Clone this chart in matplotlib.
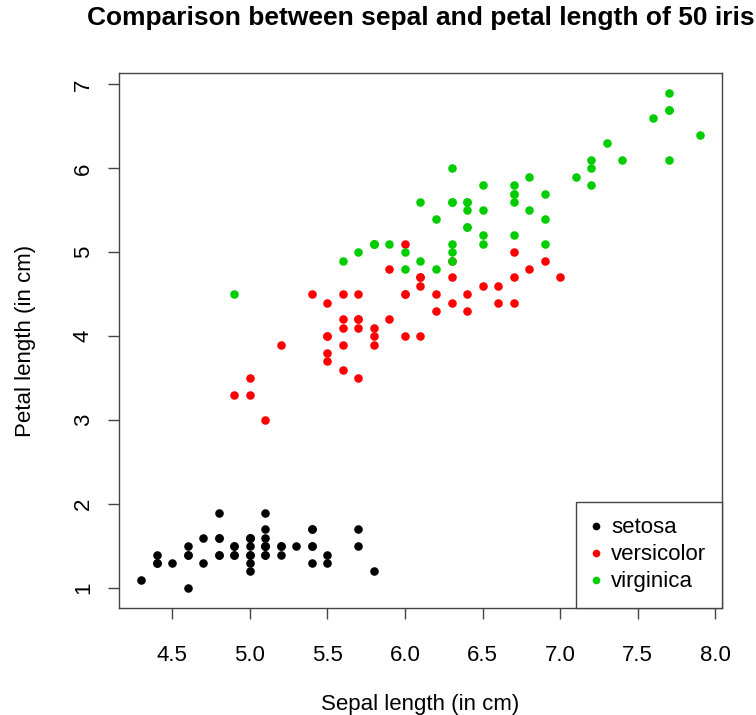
import matplotlib
matplotlib.use('Agg')
from matplotlib import pyplot as plt
from matplotlib.lines import Line2D

plt.rcParams['font.family'] = ['Liberation Sans', 'DejaVu Sans']

# iris: sepal length / petal length by species
setosa_sepal = [5.1, 4.9, 4.7, 4.6, 5.0, 5.4, 4.6, 5.0, 4.4, 4.9, 5.4, 4.8, 4.8, 4.3, 5.8, 5.7, 5.4,
                5.1, 5.7, 5.1, 5.4, 5.1, 4.6, 5.1, 4.8, 5.0, 5.0, 5.2, 5.2, 4.7, 4.8, 5.4, 5.2, 5.5,
                4.9, 5.0, 5.5, 4.9, 4.4, 5.1, 5.0, 4.5, 4.4, 5.0, 5.1, 4.8, 5.1, 4.6, 5.3, 5.0]
setosa_petal = [1.4, 1.4, 1.3, 1.5, 1.4, 1.7, 1.4, 1.5, 1.4, 1.5, 1.5, 1.6, 1.4, 1.1, 1.2, 1.5, 1.3,
                1.4, 1.7, 1.5, 1.7, 1.5, 1.0, 1.7, 1.9, 1.6, 1.6, 1.5, 1.4, 1.6, 1.6, 1.5, 1.5, 1.4,
                1.5, 1.2, 1.3, 1.4, 1.3, 1.5, 1.3, 1.3, 1.3, 1.6, 1.9, 1.4, 1.6, 1.4, 1.5, 1.4]
versicolor_sepal = [7.0, 6.4, 6.9, 5.5, 6.5, 5.7, 6.3, 4.9, 6.6, 5.2, 5.0, 5.9, 6.0, 6.1, 5.6, 6.7, 5.6,
                    5.8, 6.2, 5.6, 5.9, 6.1, 6.3, 6.1, 6.4, 6.6, 6.8, 6.7, 6.0, 5.7, 5.5, 5.5, 5.8, 6.0,
                    5.4, 6.0, 6.7, 6.3, 5.6, 5.5, 5.5, 6.1, 5.8, 5.0, 5.6, 5.7, 5.7, 6.2, 5.1, 5.7]
versicolor_petal = [4.7, 4.5, 4.9, 4.0, 4.6, 4.5, 4.7, 3.3, 4.6, 3.9, 3.5, 4.2, 4.0, 4.7, 3.6, 4.4, 4.5,
                    4.1, 4.5, 3.9, 4.8, 4.0, 4.9, 4.7, 4.3, 4.4, 4.8, 5.0, 4.5, 3.5, 3.8, 3.7, 3.9, 5.1,
                    4.5, 4.5, 4.7, 4.4, 4.1, 4.0, 4.4, 4.6, 4.0, 3.3, 4.2, 4.2, 4.2, 4.3, 3.0, 4.1]
virginica_sepal = [6.3, 5.8, 7.1, 6.3, 6.5, 7.6, 4.9, 7.3, 6.7, 7.2, 6.5, 6.4, 6.8, 5.7, 5.8, 6.4, 6.5,
                   7.7, 7.7, 6.0, 6.9, 5.6, 7.7, 6.3, 6.7, 7.2, 6.2, 6.1, 6.4, 7.2, 7.4, 7.9, 6.4, 6.3,
                   6.1, 7.7, 6.3, 6.4, 6.0, 6.9, 6.7, 6.9, 5.8, 6.8, 6.7, 6.7, 6.3, 6.5, 6.2, 5.9]
virginica_petal = [6.0, 5.1, 5.9, 5.6, 5.8, 6.6, 4.5, 6.3, 5.8, 6.1, 5.1, 5.3, 5.5, 5.0, 5.1, 5.3, 5.5,
                   6.7, 6.9, 5.0, 5.7, 4.9, 6.7, 4.9, 5.7, 6.0, 4.8, 4.9, 5.6, 5.8, 6.1, 6.4, 5.6, 5.1,
                   5.6, 6.1, 5.6, 5.5, 4.8, 5.4, 5.6, 5.1, 5.1, 5.9, 5.7, 5.2, 5.0, 5.2, 5.4, 5.1]

species = ['setosa', 'versicolor', 'virginica']
colours = ['black', '#FF0000', '#00CD00']
xs = [setosa_sepal, versicolor_sepal, virginica_sepal]
ys = [setosa_petal, versicolor_petal, virginica_petal]

fig = plt.figure(figsize=(7.56, 7.15), dpi=100)
ax = fig.add_axes([0.1574, 0.1497, 0.7976, 0.7483])

for x, y, c in zip(xs, ys, colours):
    ax.scatter(x, y, s=38, color=c, linewidths=0, zorder=3)

ax.set_xlim(4.156, 8.044)
ax.set_ylim(0.764, 7.136)
ax.set_xticks([4.5, 5.0, 5.5, 6.0, 6.5, 7.0, 7.5, 8.0])
ax.set_xticklabels(['4.5', '5.0', '5.5', '6.0', '6.5', '7.0', '7.5', '8.0'])
ax.set_yticks([1, 2, 3, 4, 5, 6, 7])
ax.set_yticklabels(['1', '2', '3', '4', '5', '6', '7'], rotation=90, va='center')

for sp in ax.spines.values():
    sp.set_color('#444444')
    sp.set_linewidth(1.0)
ax.tick_params(direction='out', length=8, width=1.0, color='#444444', labelsize=16)
ax.tick_params(axis='x', pad=18.5)
ax.tick_params(axis='y', pad=10)

ax.set_xlabel('Sepal length (in cm)', fontsize=16)
ax.set_ylabel('Petal length (in cm)', fontsize=16)
ax.xaxis.set_label_coords(0.5, -0.16)
ax.yaxis.set_label_coords(-0.138, 0.5)
fig.text(0.556, 0.975, 'Comparison between sepal and petal length of 50 iris',
         fontsize=19, fontweight='bold', ha='center', va='center')

handles = [Line2D([], [], linestyle='none', marker='o', markersize=4.5, color=c) for c in colours]
leg = ax.legend(handles, species, loc='lower right', borderaxespad=0, fancybox=False,
                edgecolor='#444444', framealpha=1, fontsize=16, handlelength=0.45,
                handletextpad=0.45, borderpad=0.7, labelspacing=0.27)
leg.get_frame().set_linewidth(1.0)

fig.savefig('out.png', dpi=100)
